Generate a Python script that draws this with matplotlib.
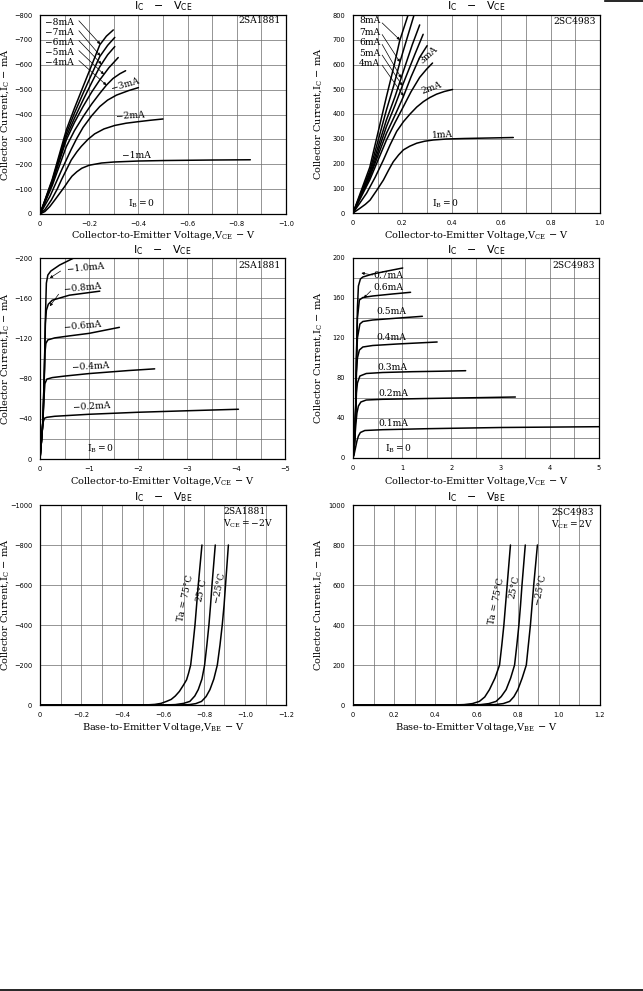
import numpy as np
import matplotlib
matplotlib.use('Agg')
import matplotlib.pyplot as plt
from matplotlib.lines import Line2D

# ======================= DATA =======================
# --- Panel 1: 2SA1881  IC - VCE (base current -1 ... -8 mA) ---
sa_hi_labels = ['−1mA', '−2mA', '−3mA', '−4mA', '−5mA', '−6mA', '−7mA', '−8mA']
sa_hi_1_v = [0, -0.02, -0.04, -0.06, -0.08, -0.10, -0.115, -0.13, -0.15, -0.17, -0.20, -0.25,
             -0.30, -0.40, -0.51, -0.70, -0.855]
sa_hi_1_i = [0, -10, -30, -56, -83, -110, -132, -152, -170, -184, -196, -205,
             -209, -213, -215, -217, -218]
sa_hi_2_v = [0, -0.02, -0.046, -0.07, -0.087, -0.107, -0.127, -0.15, -0.168, -0.195, -0.222,
             -0.26, -0.304, -0.35, -0.398, -0.45, -0.50]
sa_hi_2_i = [0, -18, -56, -100, -137, -177, -217, -250, -272, -300, -322,
             -342, -356, -365, -371, -377, -382]
sa_hi_3_v = [0, -0.04, -0.087, -0.127, -0.15, -0.175, -0.21, -0.243, -0.275, -0.311, -0.36, -0.40]
sa_hi_3_i = [0, -70, -175, -260, -305, -348, -395, -432, -458, -478, -496, -508]
sa_hi_4_v = [0, -0.05, -0.107, -0.14, -0.175, -0.21, -0.243, -0.27, -0.297, -0.325, -0.348]
sa_hi_4_i = [0, -115, -271, -335, -391, -442, -485, -518, -545, -564, -576]
sa_hi_5_v = [0, -0.05, -0.107, -0.14, -0.175, -0.21, -0.243, -0.28, -0.318]
sa_hi_5_i = [0, -125, -298, -368, -432, -490, -539, -588, -629]
sa_hi_6_v = [0, -0.05, -0.107, -0.14, -0.175, -0.21, -0.243, -0.275, -0.304]
sa_hi_6_i = [0, -130, -311, -385, -458, -528, -592, -640, -673]
sa_hi_7_v = [0, -0.05, -0.107, -0.14, -0.175, -0.21, -0.243, -0.275, -0.304]
sa_hi_7_i = [0, -135, -324, -405, -485, -562, -633, -678, -710]
sa_hi_8_v = [0, -0.05, -0.107, -0.14, -0.175, -0.21, -0.243, -0.27, -0.298]
sa_hi_8_i = [0, -140, -338, -425, -512, -598, -680, -715, -740]
sa_hi_xticks = [0, -0.2, -0.4, -0.6, -0.8, -1.0]
sa_hi_xticklabels = ['0', '−0.2', '−0.4', '−0.6', '−0.8', '−1.0']
sa_hi_yticks = [0, -100, -200, -300, -400, -500, -600, -700, -800]
sa_hi_yticklabels = ['0', '−100', '−200', '−300', '−400', '−500', '−600', '−700', '−800']

# --- Panel 2: 2SC4983  IC - VCE (base current 1 ... 8 mA) ---
sc_hi_labels = ['1mA', '2mA', '3mA', '4mA', '5mA', '6mA', '7mA', '8mA']
sc_hi_1_v = [0, 0.028, 0.05, 0.069, 0.095, 0.123, 0.145, 0.163, 0.185, 0.204, 0.23, 0.258,
             0.29, 0.325, 0.38, 0.45, 0.55, 0.649]
sc_hi_1_i = [0, 19, 35, 52, 90, 133, 175, 207, 235, 255, 270, 282,
             290, 295, 299, 301, 303, 305]
sc_hi_2_v = [0, 0.055, 0.09, 0.123, 0.15, 0.177, 0.205, 0.231, 0.258, 0.285, 0.31, 0.338, 0.37, 0.403]
sc_hi_2_i = [0, 80, 145, 214, 275, 330, 370, 400, 428, 450, 466, 480, 491, 499]
sc_hi_3_v = [0, 0.068, 0.135, 0.17, 0.203, 0.235, 0.27, 0.297, 0.322]
sc_hi_3_i = [0, 134, 294, 365, 428, 490, 548, 580, 606]
sc_hi_4_v = [0, 0.068, 0.135, 0.17, 0.203, 0.235, 0.27, 0.30]
sc_hi_4_i = [0, 145, 321, 395, 468, 550, 629, 676]
sc_hi_5_v = [0, 0.068, 0.135, 0.17, 0.203, 0.25, 0.284]
sc_hi_5_i = [0, 150, 348, 435, 522, 640, 722]
sc_hi_6_v = [0, 0.068, 0.135, 0.17, 0.203, 0.24, 0.27]
sc_hi_6_i = [0, 160, 375, 470, 570, 680, 760]
sc_hi_7_v = [0, 0.068, 0.135, 0.165, 0.19, 0.22, 0.246]
sc_hi_7_i = [0, 170, 415, 515, 610, 710, 796]
sc_hi_8_v = [0, 0.068, 0.135, 0.165, 0.189, 0.223]
sc_hi_8_i = [0, 185, 468, 590, 696, 800]
sc_hi_xticks = [0, 0.2, 0.4, 0.6, 0.8, 1.0]
sc_hi_xticklabels = ['0', '0.2', '0.4', '0.6', '0.8', '1.0']
sc_hi_yticks = [0, 100, 200, 300, 400, 500, 600, 700, 800]
sc_hi_yticklabels = ['0', '100', '200', '300', '400', '500', '600', '700', '800']

# --- Panel 3: 2SA1881  IC - VCE (base current -0.2 ... -1.0 mA) ---
sa_lo_labels = ['−0.2mA', '−0.4mA', '−0.6mA', '−0.8mA', '−1.0mA']
sa_lo_02_v = [0, -0.03, -0.06, -0.09, -0.14, -0.3, -1.0, -2.0, -3.0, -4.05]
sa_lo_02_i = [0, -18, -36, -40.5, -41.5, -42.5, -44.5, -46.5, -48, -49.5]
sa_lo_04_v = [0, -0.03, -0.06, -0.08, -0.1, -0.14, -0.25, -0.5, -1.0, -1.8, -2.34]
sa_lo_04_i = [0, -18, -38, -60, -75, -79.5, -81, -82.5, -85, -88, -89.7]
sa_lo_06_v = [0, -0.03, -0.06, -0.085, -0.1, -0.12, -0.16, -0.3, -0.6, -1.0, -1.62]
sa_lo_06_i = [0, -18, -38, -75, -105, -115, -118.5, -120.5, -122.5, -125, -131]
sa_lo_08_v = [0, -0.03, -0.06, -0.09, -0.11, -0.13, -0.17, -0.25, -0.6, -1.22]
sa_lo_08_i = [0, -18, -38, -90, -135, -148, -154, -158, -163, -167]
sa_lo_10_v = [0, -0.03, -0.06, -0.09, -0.11, -0.13, -0.16, -0.22, -0.4, -0.69]
sa_lo_10_i = [0, -18, -38, -90, -140, -175, -183, -187, -193, -200]
sa_lo_xticks = [0, -1, -2, -3, -4, -5]
sa_lo_xticklabels = ['0', '−1', '−2', '−3', '−4', '−5']
sa_lo_yticks = [0, -40, -80, -120, -160, -200]
sa_lo_yticklabels = ['0', '−40', '−80', '−120', '−160', '−200']

# --- Panel 4: 2SC4983  IC - VCE (base current 0.1 ... 0.7 mA) ---
sc_lo_labels = ['0.1mA', '0.2mA', '0.3mA', '0.4mA', '0.5mA', '0.6mA', '0.7mA']
sc_lo_01_v = [0, 0.02, 0.05, 0.08, 0.11, 0.15, 0.24, 0.6, 1.5, 3.0, 5.0]
sc_lo_01_i = [0, 3, 10, 17, 22, 25.5, 27.5, 28.3, 29.3, 30.5, 31.3]
sc_lo_02_v = [0, 0.02, 0.04, 0.06, 0.08, 0.11, 0.16, 0.27, 0.6, 1.5, 2.5, 3.3]
sc_lo_02_i = [0, 8, 22, 35, 45, 52, 56, 58, 58.7, 59.5, 60.3, 61]
sc_lo_03_v = [0, 0.02, 0.04, 0.055, 0.07, 0.09, 0.14, 0.27, 0.6, 1.2, 1.8, 2.29]
sc_lo_03_i = [0, 8, 25, 45, 65, 75, 82, 84.5, 85.5, 86.3, 86.8, 87.3]
sc_lo_04_v = [0, 0.02, 0.04, 0.055, 0.07, 0.09, 0.13, 0.2, 0.4, 0.9, 1.71]
sc_lo_04_i = [0, 8, 25, 50, 85, 100, 108, 111, 112.5, 114, 116]
sc_lo_05_v = [0, 0.02, 0.04, 0.055, 0.07, 0.09, 0.14, 0.2, 0.4, 0.8, 1.41]
sc_lo_05_i = [0, 8, 25, 50, 95, 120, 134, 136.5, 138, 139.5, 141.7]
sc_lo_06_v = [0, 0.02, 0.04, 0.055, 0.07, 0.09, 0.13, 0.2, 0.4, 0.8, 1.17]
sc_lo_06_i = [0, 8, 25, 50, 100, 140, 158, 160.5, 162, 164, 165.7]
sc_lo_07_v = [0, 0.02, 0.04, 0.055, 0.07, 0.09, 0.11, 0.15, 0.2, 0.4, 0.7, 1.01]
sc_lo_07_i = [0, 8, 25, 50, 100, 150, 172, 179, 181, 184, 187, 190]
sc_lo_xticks = [0, 1, 2, 3, 4, 5]
sc_lo_xticklabels = ['0', '1', '2', '3', '4', '5']
sc_lo_yticks = [0, 40, 80, 120, 160, 200]
sc_lo_yticklabels = ['0', '40', '80', '120', '160', '200']

# --- Panel 5: 2SA1881  IC - VBE  (VCE = -2 V) ---
sa_vbe_labels = ['Ta = 75°C', '25°C', '−25°C']
sa_vbe_75_v = [0, -0.48, -0.52, -0.56, -0.59, -0.617, -0.64, -0.66, -0.68, -0.70, -0.715, -0.725,
               -0.735, -0.745, -0.756, -0.764, -0.772, -0.781, -0.79]
sa_vbe_75_i = [0, 0, -0.5, -3, -8, -18, -28, -45, -68, -100, -126, -160,
               -200, -290, -400, -500, -600, -700, -800]
sa_vbe_25_v = [0, -0.60, -0.66, -0.70, -0.731, -0.755, -0.772, -0.79, -0.803, -0.814, -0.824,
               -0.832, -0.839, -0.847, -0.855]
sa_vbe_25_i = [0, 0, -2, -8, -18, -45, -77, -130, -200, -300, -400,
               -500, -600, -700, -800]
sa_vbe_m25_v = [0, -0.67, -0.73, -0.76, -0.788, -0.81, -0.829, -0.848, -0.865, -0.878, -0.889,
                -0.898, -0.905, -0.912, -0.919]
sa_vbe_m25_i = [0, 0, -2, -7, -18, -42, -77, -130, -200, -300, -400,
                -500, -600, -700, -800]
sa_vbe_xticks = [0, -0.2, -0.4, -0.6, -0.8, -1.0, -1.2]
sa_vbe_xticklabels = ['0', '−0.2', '−0.4', '−0.6', '−0.8', '−1.0', '−1.2']
sa_vbe_yticks = [0, -200, -400, -600, -800, -1000]
sa_vbe_yticklabels = ['0', '−200', '−400', '−600', '−800', '−1000']

# --- Panel 6: 2SC4983  IC - VBE  (VCE = 2 V) ---
sc_vbe_labels = ['Ta = 75°C', '25°C', '−25°C']
sc_vbe_75_v = [0, 0.48, 0.54, 0.58, 0.614, 0.64, 0.663, 0.69, 0.712, 0.723, 0.733, 0.741, 0.749, 0.757, 0.765]
sc_vbe_75_i = [0, 0, 2, 7, 18, 40, 77, 135, 200, 300, 400, 500, 600, 700, 800]
sc_vbe_25_v = [0, 0.56, 0.62, 0.66, 0.695, 0.72, 0.744, 0.766, 0.785, 0.796, 0.806, 0.814, 0.821, 0.829, 0.837]
sc_vbe_25_i = [0, 0, 2, 7, 18, 42, 77, 135, 200, 300, 400, 500, 600, 700, 800]
sc_vbe_m25_v = [0, 0.63, 0.69, 0.73, 0.761, 0.782, 0.801, 0.822, 0.842, 0.852, 0.862, 0.870, 0.878, 0.887, 0.896]
sc_vbe_m25_i = [0, 0, 2, 7, 18, 42, 77, 135, 200, 300, 400, 500, 600, 700, 800]
sc_vbe_xticks = [0, 0.2, 0.4, 0.6, 0.8, 1.0, 1.2]
sc_vbe_xticklabels = ['0', '0.2', '0.4', '0.6', '0.8', '1.0', '1.2']
sc_vbe_yticks = [0, 200, 400, 600, 800, 1000]
sc_vbe_yticklabels = ['0', '200', '400', '600', '800', '1000']

# ======================= DRAWING =======================
W, H = 643, 991
fig = plt.figure(figsize=(W / 100, H / 100), dpi=100)
fig.patch.set_facecolor('white')

SERIF = 'DejaVu Serif'
SANS = 'DejaVu Sans'
TICK_FS = 4.8
LAB_FS = 7.0
TXT_FS = 6.6
CURVE = dict(color='black', lw=1.1, solid_capstyle='round', solid_joinstyle='round')


def make_ax(l, t, r, b):
    return fig.add_axes([l / W, 1 - b / H, (r - l) / W, (b - t) / H])


def style(ax, xlim, ylim, xmaj, xlab, xminor, ymaj, ylab, yminor):
    ax.set_xlim(*xlim)
    ax.set_ylim(*ylim)
    ax.set_xticks(xmaj)
    ax.set_xticklabels(xlab, fontsize=TICK_FS, family=SANS)
    ax.set_xticks(xminor, minor=True)
    ax.set_yticks(ymaj)
    ax.set_yticklabels(ylab, fontsize=TICK_FS, family=SANS)
    ax.set_yticks(yminor, minor=True)
    ax.tick_params(which='both', length=0)
    ax.tick_params(axis='x', pad=5.2)
    ax.tick_params(axis='y', pad=5.5)
    ax.grid(which='both', color='0.42', lw=0.5)
    ax.set_axisbelow(True)
    for s in ax.spines.values():
        s.set_linewidth(0.9)


def titles(l, r, t, b, ytitle, yxl, sub, xlab_txt):
    cx = (l + r) / 2
    fig.text(cx / W, 1 - ytitle / H,
             r'$\mathregular{I_C}$   −   $\mathregular{V_{%s}}$' % sub,
             ha='center', va='center', fontsize=7.9, family=SANS)
    fig.text(cx / W, 1 - yxl / H, xlab_txt, ha='center', va='center',
             fontsize=LAB_FS, family=SERIF)
    fig.text((l - 34.5) / W, 1 - ((t + b) / 2) / H,
             r'Collector Current,$\mathregular{I_C}$ − mA', rotation=90,
             ha='center', va='center', fontsize=LAB_FS, family=SERIF)


def on_curve(v, i, x):
    v = np.asarray(v, float)
    i = np.asarray(i, float)
    if v[-1] < 0:
        return float(np.interp(-x, -v, i))
    return float(np.interp(x, v, i))


def leader(ax, start, end):
    ax.annotate('', xy=end, xytext=start,
                arrowprops=dict(arrowstyle='-|>', lw=0.5, color='black',
                                mutation_scale=4, shrinkA=0, shrinkB=0))


xl_vce = r'Collector-to-Emitter Voltage,$\mathregular{V_{CE}}$ − V'
xl_vbe = r'Base-to-Emitter Voltage,$\mathregular{V_{BE}}$ − V'

# ---------- Panel 1 ----------
ax1 = make_ax(40, 15, 286, 214)
style(ax1, (0, -1.0), (0, -800), sa_hi_xticks, sa_hi_xticklabels,
      np.arange(0, -1.01, -0.1), sa_hi_yticks, sa_hi_yticklabels, sa_hi_yticks)
sa_hi_v = [sa_hi_1_v, sa_hi_2_v, sa_hi_3_v, sa_hi_4_v, sa_hi_5_v, sa_hi_6_v, sa_hi_7_v, sa_hi_8_v]
sa_hi_i = [sa_hi_1_i, sa_hi_2_i, sa_hi_3_i, sa_hi_4_i, sa_hi_5_i, sa_hi_6_i, sa_hi_7_i, sa_hi_8_i]
for v, i in zip(sa_hi_v, sa_hi_i):
    ax1.plot(v, i, **CURVE)
stack_y = [-609, -649, -689, -729, -769]
stack_t = [-0.27, -0.26, -0.25, -0.245, -0.245]
for k, (yy, tx) in enumerate(zip(stack_y, stack_t)):
    idx = 3 + k
    ax1.text(-0.02, yy, sa_hi_labels[idx], ha='left', va='center',
             fontsize=TXT_FS, family=SERIF)
    leader(ax1, (-0.158, yy - 8), (tx, on_curve(sa_hi_v[idx], sa_hi_i[idx], tx)))
ax1.text(-0.345, -520, sa_hi_labels[2], ha='center', va='center', rotation=16,
         fontsize=TXT_FS, family=SERIF)
ax1.text(-0.368, -393, sa_hi_labels[1], ha='center', va='center', rotation=3,
         fontsize=TXT_FS, family=SERIF)
ax1.text(-0.394, -235, sa_hi_labels[0], ha='center', va='center',
         fontsize=TXT_FS, family=SERIF)
ax1.text(-0.413, -43, r'$\mathregular{I_B = 0}$', ha='center', va='center',
         fontsize=TXT_FS, family=SERIF)
ax1.text(-0.98, -777, '2SA1881', ha='right', va='center', fontsize=TXT_FS, family=SERIF)
titles(40, 286, 15, 214, 6.5, 236, 'CE', xl_vce)

# ---------- Panel 2 ----------
ax2 = make_ax(353, 15, 600, 213)
style(ax2, (0, 1.0), (0, 800), sc_hi_xticks, sc_hi_xticklabels,
      np.arange(0, 1.01, 0.1), sc_hi_yticks, sc_hi_yticklabels, sc_hi_yticks)
sc_hi_v = [sc_hi_1_v, sc_hi_2_v, sc_hi_3_v, sc_hi_4_v, sc_hi_5_v, sc_hi_6_v, sc_hi_7_v, sc_hi_8_v]
sc_hi_i = [sc_hi_1_i, sc_hi_2_i, sc_hi_3_i, sc_hi_4_i, sc_hi_5_i, sc_hi_6_i, sc_hi_7_i, sc_hi_8_i]
for v, i in zip(sc_hi_v, sc_hi_i):
    ax2.plot(v, i, **CURVE)
stack_y2 = [605, 646, 689, 729, 776]
stack_t2 = [0.205, 0.2, 0.195, 0.19, 0.19]
for k, (yy, tx) in enumerate(zip(stack_y2, stack_t2)):
    idx = 3 + k
    ax2.text(0.024, yy, sc_hi_labels[idx], ha='left', va='center',
             fontsize=TXT_FS, family=SERIF)
    leader(ax2, (0.118, yy - 8), (tx, on_curve(sc_hi_v[idx], sc_hi_i[idx], tx)))
ax2.text(0.306, 638, sc_hi_labels[2], ha='center', va='center', rotation=42,
         fontsize=TXT_FS, family=SERIF)
ax2.text(0.318, 505, sc_hi_labels[1], ha='center', va='center', rotation=20,
         fontsize=TXT_FS, family=SERIF)
ax2.text(0.362, 316, sc_hi_labels[0], ha='center', va='center', rotation=3,
         fontsize=TXT_FS, family=SERIF)
ax2.text(0.376, 37, r'$\mathregular{I_B = 0}$', ha='center', va='center',
         fontsize=TXT_FS, family=SERIF)
ax2.text(0.984, 773, '2SC4983', ha='right', va='center', fontsize=TXT_FS, family=SERIF)
titles(353, 600, 15, 213, 6.5, 236, 'CE', xl_vce)

# ---------- Panel 3 ----------
ax3 = make_ax(40, 258, 285, 459)
style(ax3, (0, -5), (0, -200), sa_lo_xticks, sa_lo_xticklabels,
      np.arange(0, -5.01, -0.5), sa_lo_yticks, sa_lo_yticklabels, np.arange(0, -201, -20))
sa_lo_v = [sa_lo_02_v, sa_lo_04_v, sa_lo_06_v, sa_lo_08_v, sa_lo_10_v]
sa_lo_i = [sa_lo_02_i, sa_lo_04_i, sa_lo_06_i, sa_lo_08_i, sa_lo_10_i]
for v, i in zip(sa_lo_v, sa_lo_i):
    ax3.plot(v, i, **CURVE)
lo_pos3 = [(-0.67, -52, 3), (-0.64, -92.5, 3), (-0.47, -132.5, 5), (-0.47, -170, 5), (-0.54, -190, 5)]
for lab, (xx, yy, rot) in zip(sa_lo_labels, lo_pos3):
    ax3.text(xx, yy, lab, ha='left', va='center', rotation=rot,
             fontsize=TXT_FS, family=SERIF)
leader(ax3, (-0.42, -187), (-0.2, -180))
leader(ax3, (-0.38, -164), (-0.2, -152))
ax3.text(-1.24, -10, r'$\mathregular{I_B = 0}$', ha='center', va='center',
         fontsize=TXT_FS, family=SERIF)
ax3.text(-4.92, -193, '2SA1881', ha='right', va='center', fontsize=TXT_FS, family=SERIF)
titles(40, 285, 258, 459, 250, 481, 'CE', xl_vce)

# ---------- Panel 4 ----------
ax4 = make_ax(353, 258, 599, 458)
style(ax4, (0, 5), (0, 200), sc_lo_xticks, sc_lo_xticklabels,
      np.arange(0, 5.01, 0.5), sc_lo_yticks, sc_lo_yticklabels, np.arange(0, 201, 20))
sc_lo_v = [sc_lo_01_v, sc_lo_02_v, sc_lo_03_v, sc_lo_04_v, sc_lo_05_v, sc_lo_06_v, sc_lo_07_v]
sc_lo_i = [sc_lo_01_i, sc_lo_02_i, sc_lo_03_i, sc_lo_04_i, sc_lo_05_i, sc_lo_06_i, sc_lo_07_i]
for v, i in zip(sc_lo_v, sc_lo_i):
    ax4.plot(v, i, **CURVE)
lo_pos4 = [(0.51, 34), (0.51, 64.5), (0.49, 91), (0.47, 121), (0.47, 147), (0.42, 171), (0.42, 182)]
for lab, (xx, yy) in zip(sc_lo_labels, lo_pos4):
    ax4.text(xx, yy, lab, ha='left', va='center', fontsize=TXT_FS, family=SERIF)
leader(ax4, (0.40, 183), (0.17, 185))
leader(ax4, (0.36, 167), (0.22, 160))
ax4.text(0.93, 9.5, r'$\mathregular{I_B = 0}$', ha='center', va='center',
         fontsize=TXT_FS, family=SERIF)
ax4.text(4.91, 193, '2SC4983', ha='right', va='center', fontsize=TXT_FS, family=SERIF)
titles(353, 599, 258, 458, 250, 481, 'CE', xl_vce)

# ---------- Panel 5 ----------
ax5 = make_ax(40, 505, 286, 705)
style(ax5, (0, -1.2), (0, -1000), sa_vbe_xticks, sa_vbe_xticklabels,
      np.arange(0, -1.21, -0.1), sa_vbe_yticks, sa_vbe_yticklabels, sa_vbe_yticks)
for v, i in zip([sa_vbe_75_v, sa_vbe_25_v, sa_vbe_m25_v], [sa_vbe_75_i, sa_vbe_25_i, sa_vbe_m25_i]):
    ax5.plot(v, i, **CURVE)
for lab, (xx, yy) in zip(sa_vbe_labels, [(-0.712, -535), (-0.789, -575), (-0.872, -590)]):
    ax5.text(xx, yy, lab, ha='center', va='center', rotation=78,
             fontsize=TXT_FS, family=SERIF)
ax5.text(-0.894, -967, '2SA1881', ha='left', va='center', fontsize=TXT_FS, family=SERIF)
ax5.text(-0.894, -905, r'$\mathregular{V_{CE} = -2V}$', ha='left', va='center',
         fontsize=TXT_FS, family=SERIF)
titles(40, 286, 505, 705, 497, 728, 'BE', xl_vbe)

# ---------- Panel 6 ----------
ax6 = make_ax(353, 505, 600, 705)
style(ax6, (0, 1.2), (0, 1000), sc_vbe_xticks, sc_vbe_xticklabels,
      np.arange(0, 1.21, 0.1), sc_vbe_yticks, sc_vbe_yticklabels, sc_vbe_yticks)
for v, i in zip([sc_vbe_75_v, sc_vbe_25_v, sc_vbe_m25_v], [sc_vbe_75_i, sc_vbe_25_i, sc_vbe_m25_i]):
    ax6.plot(v, i, **CURVE)
for lab, (xx, yy) in zip(sc_vbe_labels, [(0.695, 520), (0.785, 590), (0.909, 578)]):
    ax6.text(xx, yy, lab, ha='center', va='center', rotation=78,
             fontsize=TXT_FS, family=SERIF)
ax6.text(0.964, 962, '2SC4983', ha='left', va='center', fontsize=TXT_FS, family=SERIF)
ax6.text(0.964, 900, r'$\mathregular{V_{CE} = 2V}$', ha='left', va='center',
         fontsize=TXT_FS, family=SERIF)
titles(353, 600, 505, 705, 497, 728, 'BE', xl_vbe)

# page rules
fig.add_artist(Line2D([605 / W, 1.0], [1 - 1 / H, 1 - 1 / H], color='black', lw=1.2,
                      transform=fig.transFigure))
fig.add_artist(Line2D([0, 1.0], [1 - 989.5 / H, 1 - 989.5 / H], color='black', lw=1.2,
                      transform=fig.transFigure))

fig.savefig('out.png', dpi=100, facecolor='white')
